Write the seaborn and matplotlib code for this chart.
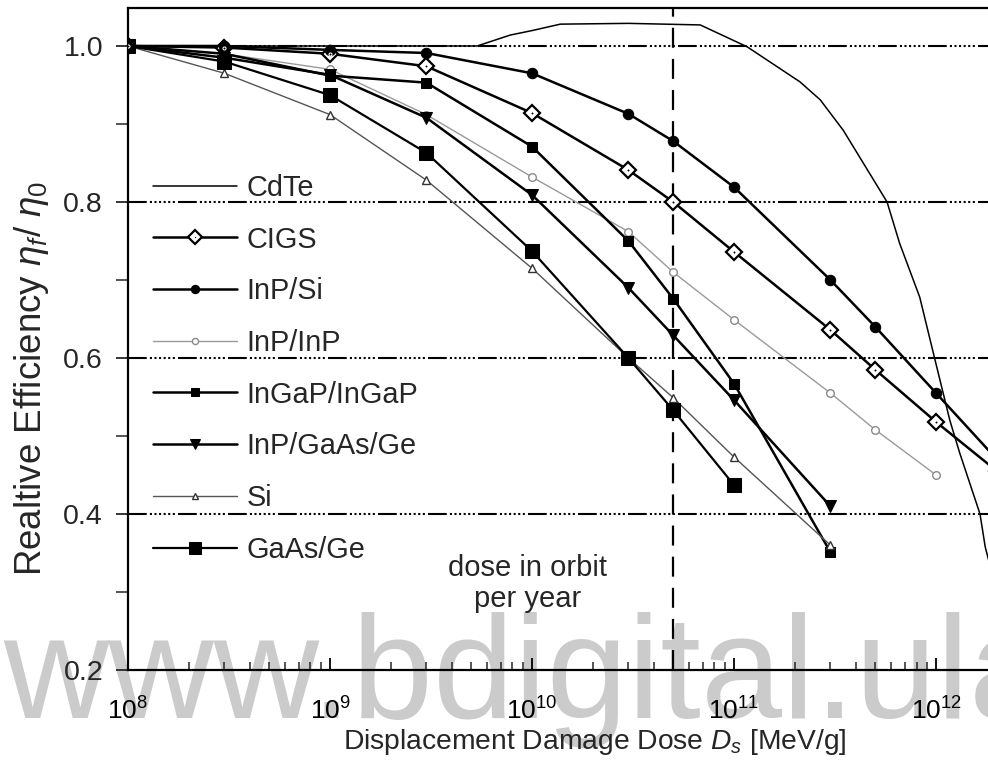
import numpy as np
import pandas as pd
import matplotlib
matplotlib.use("Agg")
import matplotlib.pyplot as plt
from matplotlib.legend_handler import HandlerTuple
from matplotlib.ticker import FixedLocator, LogLocator, NullFormatter, LogFormatterSciNotation
import seaborn as sns

# ---- data: relative efficiency vs. displacement damage dose ----
dose_cdte = [1e8, 1e9, 3e9, 5.35e9, 7.8e9, 1.01e10, 1.38e10, 3e10, 6.8e10, 1.16e11,
             2.12e11, 2.67e11, 3.47e11, 5.72e11, 6.6e11, 8.3e11, 9.7e11, 1.17e12,
             1.31e12, 1.65e12, 1.75e12, 2.0e12]
eff_cdte = [1.0, 1.0, 1.0, 1.0, 1.014, 1.02, 1.028, 1.029, 1.027, 0.999,
            0.954, 0.931, 0.892, 0.80, 0.747, 0.678, 0.606, 0.52,
            0.478, 0.40, 0.358, 0.30]

dose_cigs = [1e8, 3e8, 1e9, 3e9, 1e10, 3e10, 5e10, 1e11, 3e11, 5e11, 1e12, 2e12]
eff_cigs = [1.0, 0.998, 0.99, 0.974, 0.914, 0.841, 0.80, 0.736, 0.636, 0.585, 0.518, 0.455]

dose_inpsi = [1e8, 3e8, 1e9, 3e9, 1e10, 3e10, 5e10, 1e11, 3e11, 5e11, 1e12, 2e12]
eff_inpsi = [1.0, 1.0, 0.995, 0.991, 0.965, 0.913, 0.878, 0.819, 0.70, 0.640, 0.555, 0.47]

dose_inpinp = [1e8, 3e8, 1e9, 3e9, 1e10, 3e10, 5e10, 1e11, 3e11, 5e11, 1e12]
eff_inpinp = [1.0, 0.99, 0.97, 0.912, 0.832, 0.762, 0.71, 0.649, 0.555, 0.508, 0.45]

dose_ingap = [1e8, 3e8, 1e9, 3e9, 1e10, 3e10, 5e10, 1e11, 3e11]
eff_ingap = [1.0, 0.99, 0.962, 0.953, 0.871, 0.75, 0.676, 0.567, 0.351]

dose_inpgaas = [1e8, 3e8, 1e9, 3e9, 1e10, 3e10, 5e10, 1e11, 3e11]
eff_inpgaas = [1.0, 0.985, 0.963, 0.908, 0.809, 0.69, 0.629, 0.546, 0.41]

dose_si = [1e8, 3e8, 1e9, 3e9, 1e10, 3e10, 5e10, 1e11, 3e11]
eff_si = [1.0, 0.965, 0.912, 0.828, 0.715, 0.60, 0.549, 0.473, 0.36]

dose_gaasge = [1e8, 3e8, 1e9, 3e9, 1e10, 3e10, 5e10, 1e11]
eff_gaasge = [1.0, 0.98, 0.937, 0.863, 0.737, 0.60, 0.533, 0.437]

orbit_dose = 5e10
y_ticks = [0.2, 0.4, 0.6, 0.8, 1.0]
y_minor = [0.3, 0.5, 0.7, 0.9]
grid_levels = [0.4, 0.6, 0.8, 1.0]

# ---- style ----
sns.set_theme(style="white")
plt.rcParams["font.family"] = ["Liberation Sans", "DejaVu Sans"]
plt.rcParams["mathtext.fontset"] = "custom"
plt.rcParams["mathtext.rm"] = "Liberation Sans"
plt.rcParams["mathtext.it"] = "Liberation Sans:italic"
plt.rcParams["mathtext.sf"] = "Liberation Sans"

fig = plt.figure(figsize=(9.88, 7.76), dpi=100)
ax = fig.add_axes([128 / 988, 106 / 776, 1 - 128 / 988, 662 / 776])
ax.set_facecolor("none")

series = [
    ("CdTe", dose_cdte, eff_cdte, dict(color="black", lw=1.1, marker=None)),
    ("CIGS", dose_cigs, eff_cigs, dict(color="black", lw=1.8, marker="D", ms=8.5,
                                       mfc="white", mec="black", mew=1.6)),
    ("InP/Si", dose_inpsi, eff_inpsi, dict(color="black", lw=1.8, marker="o", ms=7.5,
                                           mfc="black", mec="black")),
    ("InP/InP", dose_inpinp, eff_inpinp, dict(color="#9a9a9a", lw=1.0, marker="o", ms=5.5,
                                              mfc="white", mec="#8a8a8a", mew=1.0)),
    ("InGaP/InGaP", dose_ingap, eff_ingap, dict(color="black", lw=1.8, marker="s", ms=7.5,
                                                 mfc="black", mec="black")),
    ("InP/GaAs/Ge", dose_inpgaas, eff_inpgaas, dict(color="black", lw=1.8, marker="v", ms=9,
                                                     mfc="black", mec="black")),
    ("Si", dose_si, eff_si, dict(color="#555555", lw=1.0, marker="^", ms=6,
                                 mfc="white", mec="#333333", mew=1.0)),
    ("GaAs/Ge", dose_gaasge, eff_gaasge, dict(color="black", lw=1.6, marker="s", ms=10,
                                              mfc="black", mec="black")),
]

handles, labels = [], []
for name, x, y, kw in series:
    df = pd.DataFrame({"dose": x, "eff": y})
    sns.lineplot(data=df, x="dose", y="eff", ax=ax, errorbar=None, sort=True,
                 estimator=None, legend=False, zorder=4, **kw)
    line = ax.get_lines()[-1]
    if name == "CIGS":
        # small centre dot inside the open diamonds
        sns.lineplot(data=df, x="dose", y="eff", ax=ax, errorbar=None, estimator=None,
                     legend=False, linestyle="none", marker="o", ms=2.2, color="black",
                     zorder=5)
        handles.append((line, ax.get_lines()[-1]))
    else:
        handles.append(line)
    labels.append(name)

# horizontal dash-dot-dot reference lines
grid_style = (0, (9, 1.5, 1, 1.2, 1, 1.2, 1, 1.2, 1, 1.2, 1, 1.2, 1, 1.5))
for lvl in grid_levels:
    ax.axhline(lvl, color="black", lw=1.5, linestyle=grid_style, zorder=2)

# yearly orbit dose marker
ax.axvline(orbit_dose, color="black", lw=1.6, linestyle=(0, (9, 5)), zorder=3)
ax.text(9.5e9, 0.311, "dose in orbit\nper year", ha="center", va="center",
        fontsize=21, linespacing=1.12, zorder=6)

ax.set_xscale("log")
ax.set_xlim(1e8, 10 ** 12.257)
ax.set_ylim(0.2, 1.0487)

ax.xaxis.set_major_locator(LogLocator(base=10, numticks=12))
ax.xaxis.set_major_formatter(LogFormatterSciNotation())
ax.xaxis.set_minor_locator(LogLocator(base=10, subs=np.arange(2, 10), numticks=12))
ax.xaxis.set_minor_formatter(NullFormatter())
ax.yaxis.set_major_locator(FixedLocator(y_ticks))
ax.yaxis.set_minor_locator(FixedLocator(y_minor))
ax.set_yticklabels([f"{v:.1f}" for v in y_ticks])

ax.tick_params(axis="x", which="major", direction="in", length=9, width=1.3,
               labelsize=19, pad=20, bottom=True, colors="black")
ax.tick_params(axis="x", which="minor", direction="in", length=6, width=1.1, bottom=True)
ax.tick_params(axis="y", which="major", direction="out", length=9, width=1.3,
               labelsize=20.5, pad=9, left=True)
ax.tick_params(axis="y", which="minor", direction="out", length=9, width=1.1, left=True)

for side in ("left", "bottom", "top"):
    ax.spines[side].set_visible(True)
    ax.spines[side].set_color("black")
    ax.spines[side].set_linewidth(1.6)
ax.spines["right"].set_visible(False)

ax.set_xlabel(r"Displacement Damage Dose $D_s$ [MeV/g]", fontsize=20.3)
ax.xaxis.set_label_coords(0.543, -0.086)
ax.set_ylabel(r"Realtive Efficiency $\eta_f$/ $\eta_0$", fontsize=26.5)
ax.yaxis.set_label_coords(-0.090, 0.441)

leg = ax.legend(handles, labels, loc="upper left", bbox_to_anchor=(0.029, 0.7495),
                frameon=False, fontsize=20.8, handlelength=2.9, handletextpad=0.35,
                labelspacing=0.82, borderpad=0, borderaxespad=0, markerscale=0.8,
                handler_map={tuple: HandlerTuple(ndivide=1)})
leg.set_zorder(7)

# repository watermark, behind the plot
fig.text(3 / 988, 58 / 776, "www.bdigital.ula", fontsize=105, color="#cbcbcb",
         family="Liberation Sans", ha="left", va="baseline", zorder=-1)

fig.savefig("out.png", dpi=100)
